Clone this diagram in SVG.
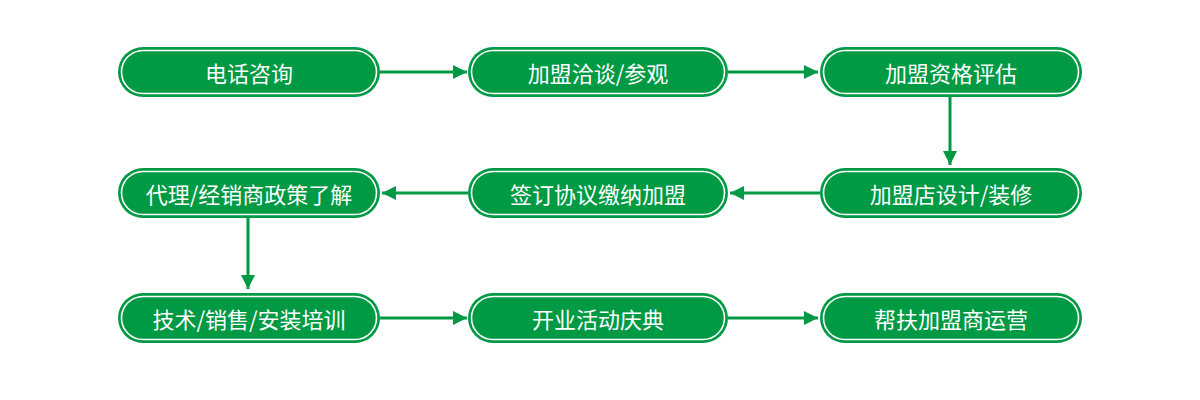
<svg xmlns="http://www.w3.org/2000/svg" width="1200" height="400" viewBox="0 0 1200 400">
<style>
.box{fill:#009944;}
.ring{fill:none;stroke:#fff;stroke-width:1.6;}
.t{fill:#fff;font-family:"Noto Sans CJK SC","Noto Sans",sans-serif;font-size:22px;text-anchor:middle;dominant-baseline:central;}
.c{stroke:#009944;stroke-width:3;fill:none;marker-end:url(#a);}
</style>
<defs><marker id="a" viewBox="0 0 10 10" refX="10" refY="5" markerWidth="14" markerHeight="14" markerUnits="userSpaceOnUse" orient="auto"><path d="M0,0L10,5L0,10z" fill="#009944"/></marker></defs>
<rect width="1200" height="400" fill="#fff"/>
<g id="connectors">
<path class="c" d="M380,72H467"/>
<path class="c" d="M728,72H818"/>
<path class="c" d="M950,97V165"/>
<path class="c" d="M820,193H730"/>
<path class="c" d="M468,193H382"/>
<path class="c" d="M248,217V289"/>
<path class="c" d="M380,318H467"/>
<path class="c" d="M728,318H818"/>
</g>
<g id="n1"><rect class="box" x="118" y="47" width="262" height="50" rx="25"/><rect class="ring" x="121.5" y="50.5" width="255" height="43" rx="21.5"/><text class="t" x="249" y="72">电话咨询</text></g>
<g id="n2"><rect class="box" x="468" y="47" width="260" height="50" rx="25"/><rect class="ring" x="471.5" y="50.5" width="253" height="43" rx="21.5"/><text class="t" x="598" y="72">加盟洽谈/参观</text></g>
<g id="n3"><rect class="box" x="820" y="47" width="262" height="50" rx="25"/><rect class="ring" x="823.5" y="50.5" width="255" height="43" rx="21.5"/><text class="t" x="951" y="72">加盟资格评估</text></g>
<g id="n4"><rect class="box" x="820" y="168" width="262" height="50" rx="25"/><rect class="ring" x="823.5" y="171.5" width="255" height="43" rx="21.5"/><text class="t" x="951" y="193">加盟店设计/装修</text></g>
<g id="n5"><rect class="box" x="468" y="168" width="260" height="50" rx="25"/><rect class="ring" x="471.5" y="171.5" width="253" height="43" rx="21.5"/><text class="t" x="598" y="193">签订协议缴纳加盟</text></g>
<g id="n6"><rect class="box" x="118" y="168" width="262" height="50" rx="25"/><rect class="ring" x="121.5" y="171.5" width="255" height="43" rx="21.5"/><text class="t" x="249" y="193">代理/经销商政策了解</text></g>
<g id="n7"><rect class="box" x="118" y="293" width="262" height="50" rx="25"/><rect class="ring" x="121.5" y="296.5" width="255" height="43" rx="21.5"/><text class="t" x="249" y="318">技术/销售/安装培训</text></g>
<g id="n8"><rect class="box" x="468" y="293" width="260" height="50" rx="25"/><rect class="ring" x="471.5" y="296.5" width="253" height="43" rx="21.5"/><text class="t" x="598" y="318">开业活动庆典</text></g>
<g id="n9"><rect class="box" x="820" y="293" width="262" height="50" rx="25"/><rect class="ring" x="823.5" y="296.5" width="255" height="43" rx="21.5"/><text class="t" x="951" y="318">帮扶加盟商运营</text></g>
</svg>
